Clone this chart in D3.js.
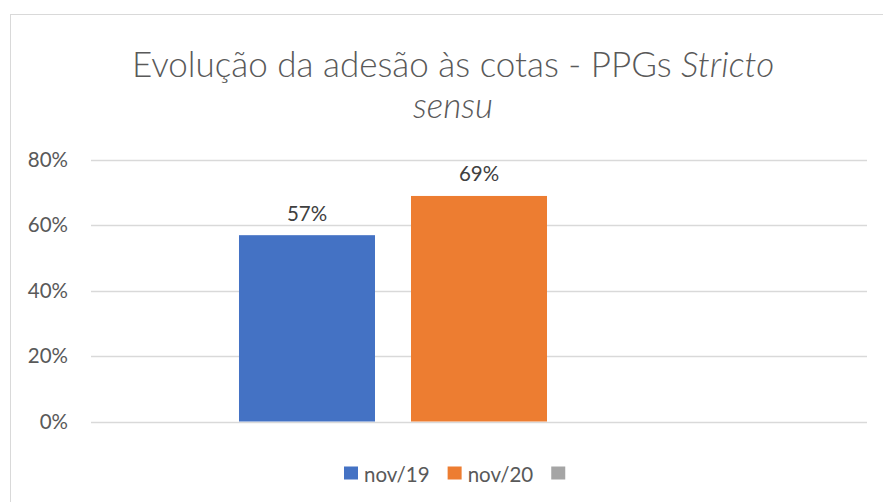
<!DOCTYPE html>
<html>
<head>
<meta charset="utf-8">
<script src="https://cdn.jsdelivr.net/npm/d3@7"></script>
<style>
  body { margin: 0; background: #fff; }
  text { font-family: Lato, "Open Sans", sans-serif; }
</style>
</head>
<body>
<svg id="chart" width="883" height="502"></svg>
<script>
// data
const categories = ['adesao'];
const seriesNames = ['nov/19', 'nov/20', ''];
const seriesValues = [0.57, 0.69, null];
const seriesColors = ['#4472C4', '#ED7D31', '#A5A5A5'];
const yTicks = [0, 0.2, 0.4, 0.6, 0.8];

const svg = d3.select('#chart');

// outer frame of the chart, runs off the right and bottom edge
svg.append('rect')
  .attr('x', 10.5).attr('y', 14.5)
  .attr('width', 900).attr('height', 520)
  .attr('fill', '#fff').attr('stroke', '#d9d9d9');

const plot = { left: 91, right: 867, top: 160, bottom: 421.5 };

const y = d3.scaleLinear().domain([0, 0.8]).range([plot.bottom, plot.top]);

const x0 = d3.scaleBand()
  .domain(categories)
  .range([plot.left, plot.right])
  .paddingInner(0)
  .paddingOuter(0.3083);

const x1 = d3.scaleBand()
  .domain(seriesNames.map((d, i) => i))
  .range([0, x0.bandwidth()])
  .paddingInner(0.2093)
  .paddingOuter(0);

// title
const title = svg.append('text')
  .attr('text-anchor', 'middle')
  .attr('fill', '#595959')
  .attr('font-size', 35)
  .attr('font-weight', 300);
title.append('tspan').attr('x', 453).attr('y', 77).text('Evolução da adesão às cotas - PPGs ');
title.append('tspan').attr('font-style', 'italic').text('Stricto');
title.append('tspan').attr('x', 453).attr('y', 118).attr('font-style', 'italic').text('sensu');

// grid
svg.append('g')
  .selectAll('line')
  .data(yTicks)
  .join('line')
  .attr('x1', plot.left).attr('x2', plot.right)
  .attr('y1', d => Math.round(y(d)) + 0.5)
  .attr('y2', d => Math.round(y(d)) + 0.5)
  .attr('stroke', '#d9d9d9')
  .attr('stroke-width', 1.3);

// y axis labels
const yAxis = d3.axisLeft(y)
  .tickValues(yTicks)
  .tickFormat(d3.format('.0%'))
  .tickSize(0)
  .tickPadding(0);

svg.append('g')
  .attr('transform', `translate(68,0)`)
  .call(yAxis)
  .call(g => g.select('.domain').remove())
  .call(g => g.selectAll('text')
    .attr('font-size', 20.5)
    .attr('fill', '#595959')
    .attr('font-family', 'Lato, sans-serif'));

// bars
const group = svg.append('g')
  .selectAll('g')
  .data(categories)
  .join('g')
  .attr('transform', d => `translate(${x0(d)},0)`);

const barData = seriesValues.map((v, i) => ({ i, v })).filter(d => d.v != null);

group.selectAll('rect')
  .data(barData)
  .join('rect')
  .attr('x', d => x1(d.i))
  .attr('width', x1.bandwidth())
  .attr('y', d => y(d.v))
  .attr('height', d => y(0) - y(d.v))
  .attr('fill', d => seriesColors[d.i]);

group.selectAll('text.label')
  .data(barData)
  .join('text')
  .attr('class', 'label')
  .attr('x', d => x1(d.i) + x1.bandwidth() / 2)
  .attr('y', d => y(d.v) - 14.5)
  .attr('text-anchor', 'middle')
  .attr('font-size', 20.5)
  .attr('fill', '#404040')
  .text(d => d3.format('.0%')(d.v));

// legend
const legend = svg.append('g');
let curX = 0;
seriesNames.forEach((name, i) => {
  const item = legend.append('g').attr('transform', `translate(${curX},0)`);
  item.append('rect')
    .attr('x', 0).attr('y', 0)
    .attr('width', 14).attr('height', 13)
    .attr('fill', seriesColors[i]);
  const t = item.append('text')
    .attr('x', 20).attr('y', 15)
    .attr('font-size', 20.5)
    .attr('fill', '#595959')
    .text(name);
  const w = name ? t.node().getComputedTextLength() : 0;
  curX += 20 + w + 18;
});
const legendWidth = curX - 18 - 6;
legend.attr('transform', `translate(${Math.round(455 - legendWidth / 2)},466.5)`);
</script>
</body>
</html>
